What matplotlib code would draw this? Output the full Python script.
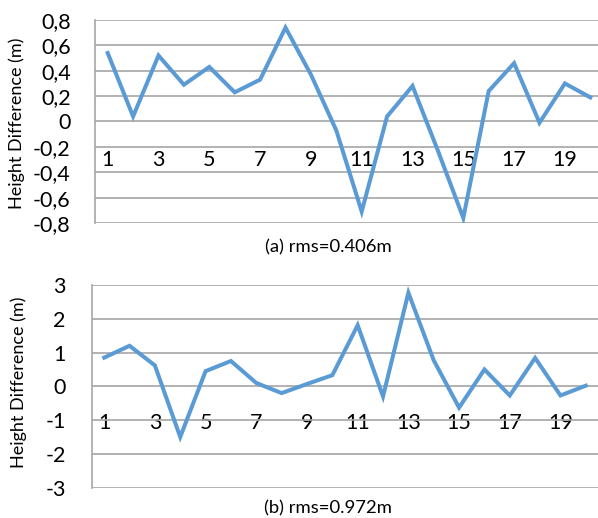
import matplotlib
matplotlib.use("Agg")
import matplotlib.pyplot as plt
import numpy as np

plt.rcParams['font.family'] = ['Lato', 'DejaVu Sans']

points = list(range(1, 21))
diff_a = [0.54, 0.04, 0.52, 0.29, 0.43, 0.23, 0.33, 0.74, 0.37, -0.07,
          -0.71, 0.04, 0.28, -0.23, -0.76, 0.24, 0.46, -0.01, 0.30, 0.19]
diff_b = [0.85, 1.20, 0.62, -1.50, 0.45, 0.75, 0.10, -0.20, 0.07, 0.33,
          1.81, -0.30, 2.77, 0.77, -0.63, 0.50, -0.27, 0.84, -0.27, 0.02]
xtick_vals = [1, 3, 5, 7, 9, 11, 13, 15, 17, 19]
yticks_a = [-0.8, -0.6, -0.4, -0.2, 0, 0.2, 0.4, 0.6, 0.8]
yticks_a_labels = ['-0,8', '-0,6', '-0,4', '-0,2', '0', '0,2', '0,4', '0,6', '0,8']
yticks_b = [-3, -2, -1, 0, 1, 2, 3]
yticks_b_labels = ['-3', '-2', '-1', '0', '1', '2', '3']
caption_a = '(a) rms=0.406m'
caption_b = '(b) rms=0.972m'
ylabel = 'Height Difference (m)'

W, H = 598, 518
fig = plt.figure(figsize=(W / 100, H / 100), dpi=100)

LINE = '#5B9BD5'
GRID = '#A6A6A6'


def make_axes(left, right, top, bottom):
    return fig.add_axes([left / W, 1 - bottom / H, (right - left) / W, (bottom - top) / H])


def style(ax, data, yt, ytl, ylim, xpad, ypad):
    ax.plot(points, data, color=LINE, lw=2.9, solid_joinstyle='miter', zorder=3)
    ax.set_xlim(0.5, 20.5)
    ax.set_ylim(*ylim)
    ax.set_yticks(yt)
    ax.set_yticklabels(ytl, fontsize=15.5)
    ax.tick_params(axis='y', length=0, pad=ypad)
    ax.set_xticks([])
    ax.grid(axis='y', color=GRID, lw=1.2)
    ax.set_axisbelow(True)
    for s in ['top', 'right', 'bottom']:
        ax.spines[s].set_visible(False)
    ax.spines['left'].set_color(GRID)
    ax.spines['left'].set_linewidth(1.2)
    sec = ax.secondary_xaxis(0.4999)
    sec.set_xticks(xtick_vals)
    sec.set_xticklabels([str(v) for v in xtick_vals], fontsize=15.5)
    sec.tick_params(axis='x', length=0, pad=xpad)
    sec.spines['bottom'].set_visible(False)
    sec.spines['top'].set_visible(False)
    ax.set_ylabel(ylabel, fontsize=13)


ax1 = make_axes(95, 603, 20, 223)
style(ax1, diff_a, yticks_a, yticks_a_labels, (-0.8, 0.8), 20.7, 17.5)
ax1.yaxis.set_label_coords((25 - 95) / 508, 0.49)

ax2 = make_axes(91.5, 598.5, 285, 487.7)
style(ax2, diff_b, yticks_b, yticks_b_labels, (-3, 3), 19.3, 18.5)
ax2.yaxis.set_label_coords((27 - 91.5) / 507, 0.518)

fig.text(328 / W, 1 - 247 / H, caption_a, fontsize=13.3, ha='center', va='center')
fig.text(328 / W, 1 - 508 / H, caption_b, fontsize=13.3, ha='center', va='center')

fig.savefig('out.png', dpi=100)
